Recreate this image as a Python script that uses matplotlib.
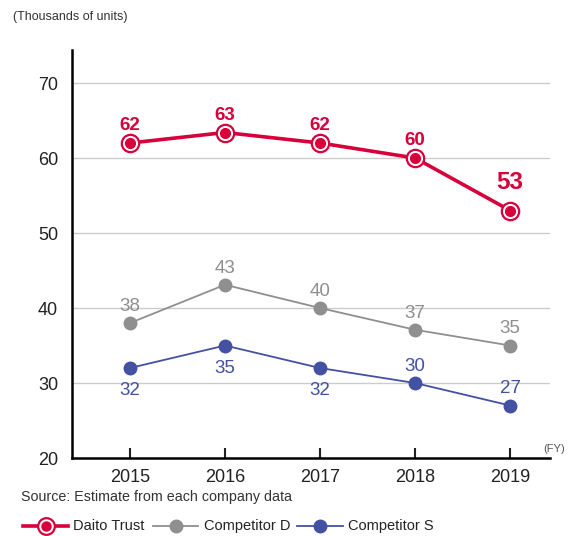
import matplotlib.pyplot as plt
from matplotlib.lines import Line2D

years = [2015, 2016, 2017, 2018, 2019]
daito = [62, 63.4, 62, 60, 53]
comp_d = [38, 43.1, 40, 37.1, 35]
comp_s = [32, 35, 32, 30, 27]
daito_lbl = ['62', '63', '62', '60', '53']
d_lbl = ['38', '43', '40', '37', '35']
s_lbl = ['32', '35', '32', '30', '27']
s_pos = ['below', 'below', 'below', 'above', 'above']

red = '#d7003a'
gray = '#8f8f8f'
blue = '#4451a3'

plt.rcParams['font.family'] = ['Liberation Sans', 'DejaVu Sans']

fig = plt.figure(figsize=(5.7, 5.36), dpi=100)
ax = fig.add_axes([0.1263, 0.1455, 0.8387, 0.7612])

ax.plot(years, comp_s, color=blue, lw=1.3, marker='o', ms=9, zorder=3)
ax.plot(years, comp_d, color=gray, lw=1.3, marker='o', ms=9, zorder=3)
ax.plot(years, daito, color=red, lw=2.6, zorder=4)
ax.plot(years, daito, ls='none', marker='o', ms=12.5, mfc='white', mec=red, mew=1.6, zorder=5)
ax.plot(years, daito, ls='none', marker='o', ms=7, color=red, zorder=6)

for i, x in enumerate(years):
    if daito_lbl[i] == '53':
        ax.annotate(daito_lbl[i], (x, daito[i]), xytext=(0, 20), textcoords='offset points',
                    ha='center', va='center', color=red, fontsize=17.5, fontweight='bold')
    else:
        ax.annotate(daito_lbl[i], (x, daito[i]), xytext=(0, 12.5), textcoords='offset points',
                    ha='center', va='center', color=red, fontsize=13.5, fontweight='bold')
    ax.annotate(d_lbl[i], (x, comp_d[i]), xytext=(0, 12), textcoords='offset points',
                ha='center', va='center', color=gray, fontsize=13.5)
    dy = -16.5 if s_pos[i] == 'below' else 12
    ax.annotate(s_lbl[i], (x, comp_s[i]), xytext=(0, dy), textcoords='offset points',
                ha='center', va='center', color=blue, fontsize=13.5)

ax.set_xlim(2014.39, 2019.42)
ax.set_ylim(20, 74.4)
ax.set_yticks([20, 30, 40, 50, 60, 70])
ax.set_xticks(years)
ax.tick_params(axis='y', length=0, labelsize=13, pad=10, colors='#222222')
ax.tick_params(axis='x', direction='in', length=7, width=1.5, labelsize=13, pad=8, colors='#222222')
for t in ax.get_xticklines():
    t.set_color('#111111')
for y in [30, 40, 50, 60, 70]:
    ax.axhline(y, color='#cccccc', lw=1, zorder=1)
ax.spines['top'].set_visible(False)
ax.spines['right'].set_visible(False)
ax.spines['left'].set_linewidth(1.8)
ax.spines['bottom'].set_linewidth(1.8)

fig.text(0.023, 0.968, '(Thousands of units)', fontsize=9, color='#333333', va='center')
fig.text(0.953, 0.162, '(FY)', fontsize=8, color='#555555', va='center')
fig.text(0.037, 0.073, 'Source: Estimate from each company data', fontsize=10.3, color='#333333', va='center')

# legend row placed by hand
W, H = 570, 536
ly = 1 - 526 / H
entries = [
    (23, 68, 73, 'Daito Trust', red, 2.6, True),
    (153, 198, 204, 'Competitor D', gray, 1.3, False),
    (297, 343, 348, 'Competitor S', blue, 1.3, False),
]
for x0, x1, xt, name, col, lw, ring in entries:
    fig.add_artist(Line2D([x0 / W, x1 / W], [ly, ly], transform=fig.transFigure, color=col, lw=lw))
    xc = (x0 + x1) / 2 / W
    if ring:
        fig.add_artist(Line2D([xc], [ly], transform=fig.transFigure, ls='none', marker='o',
                              ms=12, mfc='white', mec=col, mew=1.6))
        fig.add_artist(Line2D([xc], [ly], transform=fig.transFigure, ls='none', marker='o',
                              ms=6.5, color=col))
    else:
        fig.add_artist(Line2D([xc], [ly], transform=fig.transFigure, ls='none', marker='o',
                              ms=9, color=col))
    fig.text(xt / W, ly, name, fontsize=10.5, color='#222222', va='center')

fig.savefig('out.png', dpi=100)
